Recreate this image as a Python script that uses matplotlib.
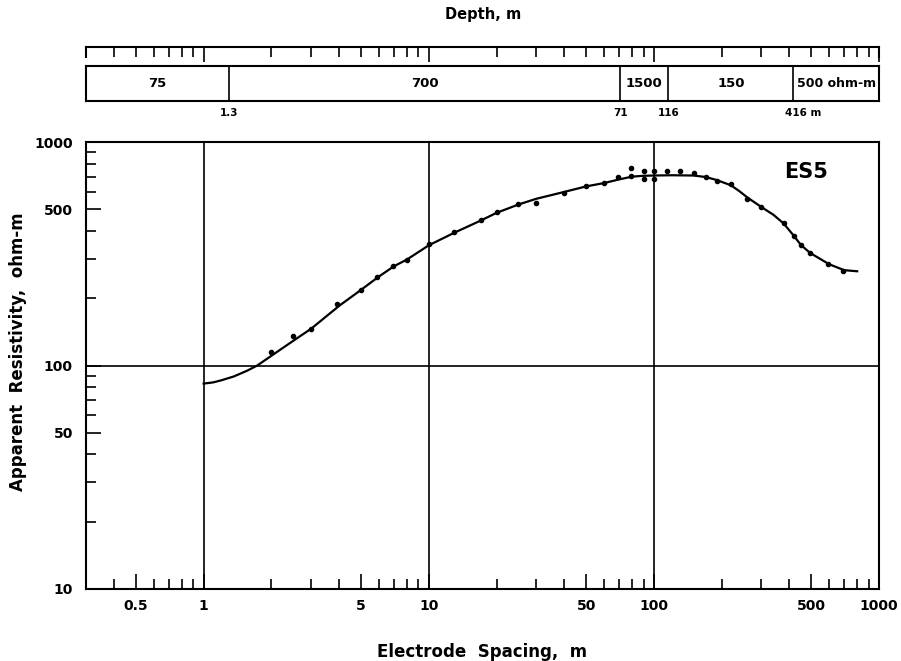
import matplotlib.pyplot as plt
from matplotlib.ticker import FixedLocator, NullFormatter

plt.rcParams["font.family"] = ["DejaVu Sans"]
plt.rcParams["font.weight"] = "bold"

# smooth model curve
curve_x = [1, 1.1, 1.19, 1.36, 1.56, 1.73, 2, 2.5, 3, 4, 5, 6, 7, 8, 10, 13, 17, 20, 25, 30, 40, 50,
           60, 70, 80, 90, 100, 120, 150, 170, 190, 220, 240, 260, 300, 340, 377, 418, 450, 494, 600, 700, 800]
curve_y = [83, 84, 85.7, 89.3, 94.8, 100, 110.6, 129, 146, 185, 218, 250, 278, 298, 345, 393, 445, 482, 525, 557,
           598, 633, 655, 680, 700, 706, 708, 710, 708, 697, 676, 640, 602, 565, 512, 472, 432, 381, 346, 319, 284,
           267, 264]

# field measurements
obs_x = [2, 2.5, 3, 3.9, 5, 5.9, 6.9, 8, 10, 13, 17, 20, 25, 30, 40, 50, 60, 69, 79, 79,
         90, 90, 100, 100, 114, 130, 150, 170, 190, 220, 260, 300, 377, 418, 450, 494, 595, 689]
obs_y = [115, 135, 146, 188, 218, 250, 280, 298, 350, 394, 446, 484, 529, 533, 594, 633, 654, 695, 766, 703,
         745, 680, 745, 680, 745, 745, 725, 696, 670, 648, 557, 510, 434, 381, 345, 319, 285, 266]

# layered model
layer_depths = [1.3, 71, 116, 416]
layer_rho = ["75", "700", "1500", "150", "500 ohm-m"]
depth_labels = ["1.3", "71", "116", "416 m"]

x_lim = (0.3, 1000)
y_lim = (10, 1000)
major_x = [0.5, 1, 5, 10, 50, 100, 500, 1000]
minor_x = [0.4, 0.6, 0.7, 0.8, 0.9, 2, 3, 4, 6, 7, 8, 9, 20, 30, 40, 60, 70, 80, 90,
           200, 300, 400, 600, 700, 800, 900]
x_labels = ["0.5", "1", "5", "10", "50", "100", "500", "1000"]
major_y = [10, 50, 100, 500, 1000]
minor_y = [20, 30, 40, 60, 70, 80, 90, 200, 300, 400, 600, 700, 800, 900]
y_labels = ["10", "50", "100", "500", "1000"]

W, H = 901, 661


def box(l, t, r, b):
    return [l / W, 1 - b / H, (r - l) / W, (b - t) / H]


fig = plt.figure(figsize=(W / 100, H / 100), dpi=100)

# main sounding plot
ax = fig.add_axes(box(86, 142, 879, 589))
ax.set_xscale("log")
ax.set_yscale("log")
ax.set_xlim(*x_lim)
ax.set_ylim(*y_lim)
for v in [1, 10, 100]:
    ax.axvline(v, color="black", lw=1.2)
ax.axhline(100, color="black", lw=1.2)
ax.plot(curve_x, curve_y, color="black", lw=1.6)
ax.plot(obs_x, obs_y, "o", color="black", ms=3)

ax.xaxis.set_major_locator(FixedLocator(major_x))
ax.xaxis.set_minor_locator(FixedLocator(minor_x))
ax.set_xticklabels(x_labels)
ax.xaxis.set_minor_formatter(NullFormatter())
ax.yaxis.set_major_locator(FixedLocator(major_y))
ax.yaxis.set_minor_locator(FixedLocator(minor_y))
ax.set_yticklabels(y_labels)
ax.yaxis.set_minor_formatter(NullFormatter())
ax.tick_params(which="both", direction="in", width=1.2, labelsize=10, top=False, right=False)
ax.tick_params(which="major", length=11)
ax.tick_params(which="minor", length=7)
ax.tick_params(axis="y", which="major", pad=9.5)
ax.tick_params(axis="x", which="major", pad=7)
for s in ax.spines.values():
    s.set_linewidth(1.5)

ax.set_xlabel("Electrode  Spacing,  m", fontsize=12, fontweight="bold", labelpad=22)
ax.set_ylabel("Apparent  Resistivity,  ohm-m", fontsize=12, fontweight="bold")
ax.yaxis.set_label_coords(-0.074, 0.53)
fig.text(806 / W, 1 - 172 / H, "ES5", fontsize=15, fontweight="bold", ha="center", va="center")

# depth ruler
ruler = fig.add_axes(box(86, 47, 879, 57))
ruler.set_xscale("log")
ruler.set_xlim(*x_lim)
ruler.set_ylim(0, 1)
ruler.spines["bottom"].set_visible(False)
for s in ruler.spines.values():
    s.set_linewidth(1.5)
ruler.set_yticks([])
ruler.xaxis.set_ticks_position("top")
ruler.xaxis.set_major_locator(FixedLocator([1, 10, 100, 1000]))
ruler.xaxis.set_minor_locator(FixedLocator([0.5, 5, 50, 500] + minor_x))
ruler.xaxis.set_major_formatter(NullFormatter())
ruler.xaxis.set_minor_formatter(NullFormatter())
ruler.tick_params(which="both", direction="in", width=1.2, labeltop=False, labelbottom=False)
ruler.tick_params(which="major", length=11)
ruler.tick_params(which="minor", length=7)
fig.text(483 / W, 1 - 15 / H, "Depth, m", ha="center", va="center", fontsize=10.5, fontweight="bold")

# layer strip
lay = fig.add_axes(box(86, 66, 879, 101))
lay.set_xscale("log")
lay.set_xlim(*x_lim)
lay.set_ylim(0, 1)
lay.set_xticks([])
lay.set_yticks([])
lay.minorticks_off()
for s in lay.spines.values():
    s.set_linewidth(1.5)
edges = [x_lim[0]] + layer_depths + [x_lim[1]]
for d in layer_depths:
    lay.axvline(d, color="black", lw=1.2)
for i, lab in enumerate(layer_rho):
    if i < len(layer_rho) - 1:
        xc = (edges[i] * edges[i + 1]) ** 0.5
        lay.text(xc, 0.5, lab, ha="center", va="center", fontsize=9.5, fontweight="bold")
    else:
        lay.annotate(lab, (edges[i], 0.5), xytext=(3, 0), textcoords="offset points",
                     ha="left", va="center", fontsize=9, fontweight="bold")
for d, lab in zip(layer_depths, depth_labels):
    off = 7 if lab.endswith("m") else 0
    lay.annotate(lab, (d, 0), xytext=(off, -9), textcoords="offset points",
                 ha="center", va="center", fontsize=7.5, fontweight="bold")

fig.savefig("out.png", dpi=100)
